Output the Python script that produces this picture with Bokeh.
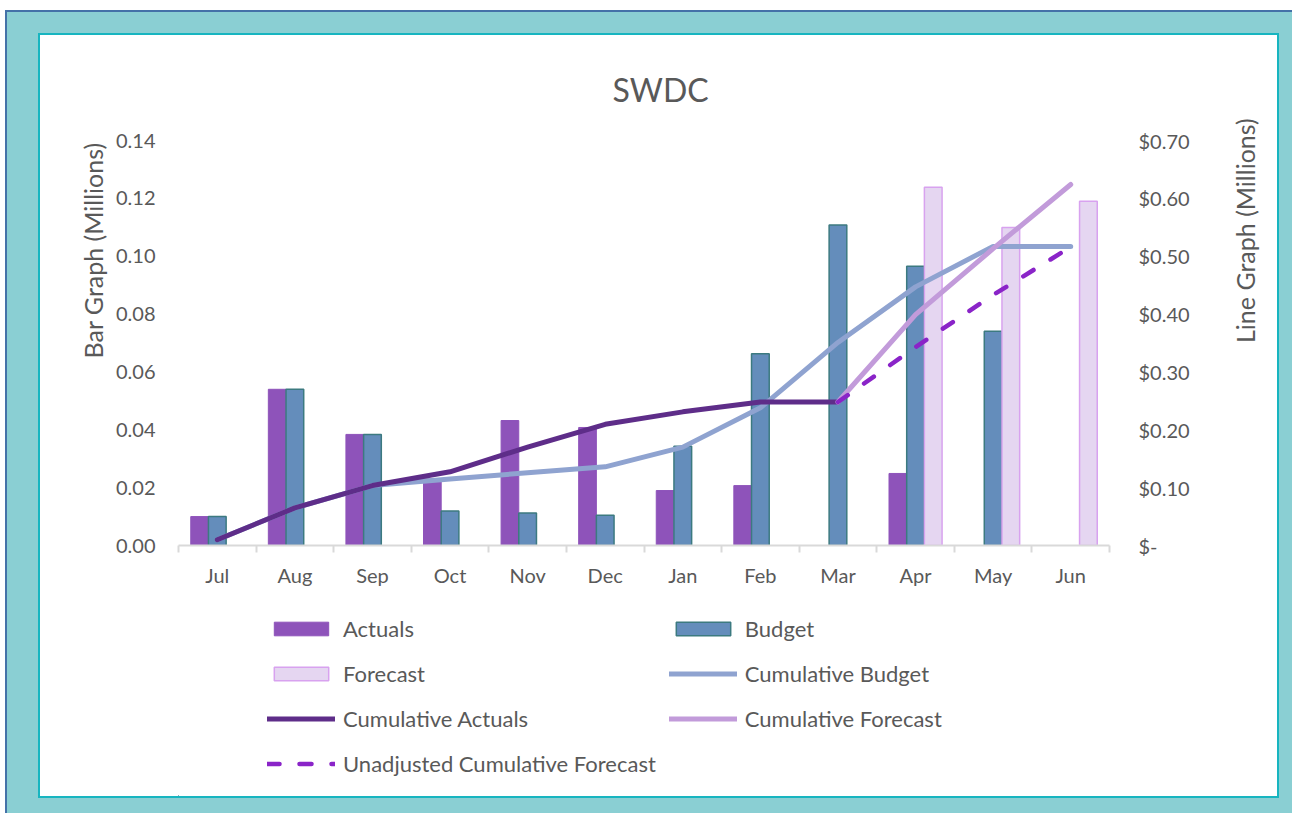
import math
from bokeh.plotting import figure
from bokeh.models import (Range1d, LinearAxis, FixedTicker, Title,
                          PrintfTickFormatter, CustomJSTickFormatter, Legend, LegendItem,
                          Column, ColumnDataSource)
from bokeh.transform import dodge
from bokeh.embed import file_html
from bokeh.resources import INLINE

nan = float("nan")

# ---------------- data (millions) ----------------
months = ["Jul", "Aug", "Sep", "Oct", "Nov", "Dec", "Jan", "Feb", "Mar", "Apr", "May", "Jun"]
actuals = [0.010, 0.054, 0.0384, 0.023, 0.0432, 0.0408, 0.019, 0.0207, -0.0003, 0.0249, nan, nan]
budget = [0.010, 0.054, 0.0384, 0.0119, 0.0112, 0.0105, 0.0343, 0.0663, 0.1108, 0.0965, 0.0741, nan]
forecast = [nan, nan, nan, nan, nan, nan, nan, nan, nan, 0.1238, 0.1099, 0.1190]
cum_actuals = [0.010, 0.065, 0.1036, 0.1274, 0.170, 0.2095, 0.231, 0.248, 0.248, nan, nan, nan]
cum_budget = [0.010, 0.065, 0.1036, 0.115, 0.1257, 0.136, 0.170, 0.238, 0.351, 0.447, 0.517, 0.517]
cum_forecast = [nan, nan, nan, nan, nan, nan, nan, nan, 0.248, 0.399, 0.513, 0.624]
unadj_cum_forecast = [nan, nan, nan, nan, nan, nan, nan, nan, 0.248, 0.343, 0.433, 0.516]
left_ticks = [0.0, 0.02, 0.04, 0.06, 0.08, 0.10, 0.12, 0.14]
right_ticks = [0.0, 0.1, 0.2, 0.3, 0.4, 0.5, 0.6, 0.7]
legend_labels = ["Actuals", "Budget", "Forecast", "Cumulative Budget", "Cumulative Actuals",
                 "Cumulative Forecast", "Unadjusted Cumulative Forecast"]

idx = list(range(len(months)))
src = ColumnDataSource(dict(idx=idx, actuals=actuals, budget=budget, forecast=forecast,
                            cum_actuals=cum_actuals, cum_budget=cum_budget,
                            cum_forecast=cum_forecast, unadj=unadj_cum_forecast))

FONT = "Lato"
TXT = "#595959"

# styles
ACT = dict(fill_color="#8E53BA", line_color="#8E53BA", line_width=1)
BUD = dict(fill_color="#648DBB", line_color="#3C7A80", line_width=1.5)
FC = dict(fill_color="#E5D6F1", line_color="#D8A2EF", line_width=1.5)
CB = dict(line_color="#8FA3D0", line_width=5, line_cap="round", line_join="round")
CA = dict(line_color="#5E2D89", line_width=5, line_cap="round", line_join="round")
CF = dict(line_color="#C29BDA", line_width=5, line_cap="round", line_join="round")
UN = dict(line_color="#8A24C8", line_width=4.5, line_cap="round", line_join="round", line_dash="12 20")

p = figure(x_range=Range1d(-0.5, len(months) - 0.5), y_range=Range1d(0, 0.14),
           width=1237, height=565, output_backend="svg", toolbar_location=None,
           x_axis_location=None, y_axis_location=None,
           min_border_left=138, min_border_right=161, min_border_top=98, min_border_bottom=55,
           background_fill_color="white", border_fill_color="white", outline_line_color=None)
p.xgrid.visible = False
p.ygrid.visible = False
p.extra_y_ranges = {"right": Range1d(0, 0.70)}

# ---------------- title ----------------
p.title.text = "SWDC"
p.title.align = "left"
p.title.offset = 434
p.title.standoff = 64
p.title.text_font = FONT
p.title.text_font_size = "32px"
p.title.text_font_style = "normal"
p.title.text_color = TXT

# ---------------- axes ----------------
yl = LinearAxis(ticker=FixedTicker(ticks=left_ticks), formatter=PrintfTickFormatter(format="%.2f"))
yr = LinearAxis(y_range_name="right", ticker=FixedTicker(ticks=right_ticks),
                formatter=CustomJSTickFormatter(code='return tick == 0 ? "$-" : "$" + tick.toFixed(2);'))
for ax, so in ((yl, 23), (yr, 29)):
    ax.axis_line_color = None
    ax.major_tick_line_color = None
    ax.minor_tick_line_color = None
    ax.major_tick_in = 0
    ax.major_tick_out = 0
    ax.major_label_standoff = so
    ax.major_label_text_font = FONT
    ax.major_label_text_font_size = "20px"
    ax.major_label_text_color = TXT
p.add_layout(yl, "left")
p.add_layout(yr, "right")

p.add_layout(Title(text="Bar Graph (Millions)", align="left", offset=187, standoff=10,
                   text_font=FONT, text_font_size="25px", text_font_style="normal",
                   text_color=TXT), "left")

if "axis_label_orientation" in yr.properties():
    yr.axis_label = "Line Graph (Millions)"
    yr.axis_label_orientation = math.pi / 2
    yr.axis_label_standoff = 52
    yr.axis_label_text_align = "center"
    yr.axis_label_text_font = FONT
    yr.axis_label_text_font_size = "25px"
    yr.axis_label_text_font_style = "normal"
    yr.axis_label_text_color = TXT
else:
    p.add_layout(Title(text="Line Graph (Millions)", align="center", standoff=46,
                       text_font=FONT, text_font_size="25px", text_font_style="normal",
                       text_color=TXT), "right")

# boundary ticks between categories
xt = LinearAxis(ticker=FixedTicker(ticks=[i - 0.5 for i in range(len(months) + 1)]))
xt.major_label_text_font_size = "0px"
xt.major_label_standoff = 0
xt.major_tick_in = 0
xt.major_tick_out = 7
xt.major_tick_line_color = "#D9D9D9"
xt.major_tick_line_width = 2
xt.minor_tick_line_color = None
xt.axis_line_color = "#D9D9D9"
xt.axis_line_width = 2
p.add_layout(xt, "below")

# category labels
xc = LinearAxis(ticker=FixedTicker(ticks=idx),
                major_label_overrides={i: m for i, m in zip(idx, months)})
xc.axis_line_color = None
xc.major_tick_line_color = None
xc.minor_tick_line_color = None
xc.major_tick_in = 0
xc.major_tick_out = 0
xc.major_label_standoff = 10
xc.major_label_text_font = FONT
xc.major_label_text_font_size = "20px"
xc.major_label_text_color = TXT
p.add_layout(xc, "below")

# ---------------- bars ----------------
BW = 0.228
p.vbar(x=dodge("idx", -BW), top="actuals", width=BW, source=src, **ACT)
p.vbar(x="idx", top="budget", width=BW, source=src, **BUD)
p.vbar(x=dodge("idx", BW), top="forecast", width=BW, source=src, **FC)

# ---------------- lines ----------------
p.line("idx", "cum_budget", source=src, y_range_name="right", **CB)
p.line("idx", "cum_actuals", source=src, y_range_name="right", **CA)
p.line("idx", "cum_forecast", source=src, y_range_name="right", **CF)
p.line("idx", "unadj", source=src, y_range_name="right", **UN)

# ---------------- legend (separate strip below the chart) ----------------
# the strip's ranges lie outside the data, so its renderers only serve as legend swatches
lg = figure(x_range=Range1d(100, 101), y_range=Range1d(100, 101), width=1237, height=196,
            output_backend="svg", toolbar_location=None, x_axis_location=None, y_axis_location=None,
            min_border=0, background_fill_color="white", border_fill_color="white",
            outline_line_color=None)
lg.xgrid.visible = False
lg.ygrid.visible = False
g_act = lg.vbar(x="idx", top="actuals", width=BW, source=src, **ACT)
g_bud = lg.vbar(x="idx", top="budget", width=BW, source=src, **BUD)
g_fc = lg.vbar(x="idx", top="forecast", width=BW, source=src, **FC)
g_cb = lg.line("idx", "cum_budget", source=src, **CB)
g_ca = lg.line("idx", "cum_actuals", source=src, **CA)
g_cf = lg.line("idx", "cum_forecast", source=src, **CF)
g_un = lg.line("idx", "unadj", source=src, **UN)
glyphs = [g_act, g_bud, g_fc, g_cb, g_ca, g_cf, g_un]
legend = Legend(items=[LegendItem(label=l, renderers=[g]) for l, g in zip(legend_labels, glyphs)],
                ncols=2, orientation="horizontal", location=(89, 17),
                glyph_width=68, glyph_height=17, label_height=32, label_standoff=8, spacing=13,
                padding=0, margin=0, border_line_color=None, background_fill_alpha=0,
                label_text_font=FONT, label_text_font_size="22px", label_text_color=TXT)
lg.add_layout(legend, "center")

inner = Column(children=[p, lg], styles={
    "border": "2px solid #17B5C0",
    "background-color": "white",
})
root = Column(children=[inner], styles={
    "margin": "10px 0px 0px 5px",
    "background-color": "#8ACFD3",
    "border-left": "2px solid #4472A8",
    "border-top": "2px solid #4472A8",
    "padding": "21px 13px 15px 31px",
})

open("out.html", "w").write(file_html(root, INLINE))
